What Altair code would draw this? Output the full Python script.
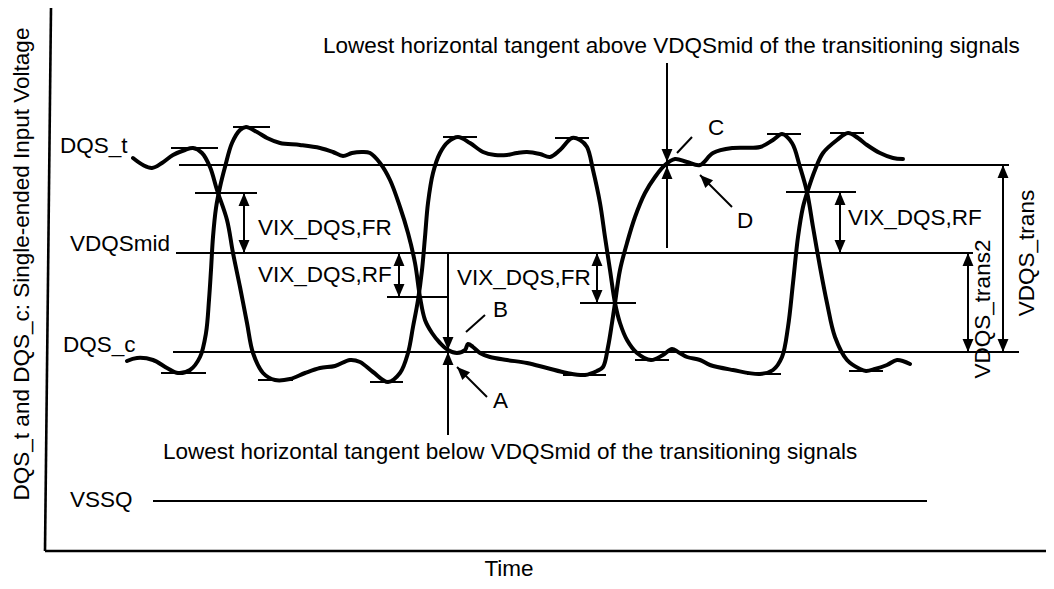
import altair as alt
import pandas as pd

# ---------------- waveform samples (time units, voltage units) ----------------
dqs_t_time = [133, 143, 152, 162, 173, 185, 193, 202, 210, 217, 227, 233, 240, 247, 253, 263, 275, 290,
              305, 320, 335, 350, 360, 373, 388, 400, 408, 413, 418, 422, 425, 428, 433, 440, 448, 458,
              470, 483, 495, 507, 517, 527, 540, 550, 560, 572, 580, 587, 593, 600, 605, 610, 615, 620,
              627, 637, 651, 663, 672, 678, 687, 700, 710, 733, 760, 773, 782, 788, 793, 798, 803, 808,
              815, 823, 837, 848, 858, 867, 880, 893, 903]
dqs_t_volt = [393, 386, 383, 388, 396, 401, 403, 398, 384, 361, 331, 298, 264, 228, 198, 178, 171, 172,
              178, 183, 185, 191, 189, 179, 169, 178, 198, 224, 251, 281, 314, 348, 378, 398, 409, 414,
              408, 399, 396, 396, 398, 399, 397, 394, 401, 413, 411, 404, 381, 348, 314, 281, 248, 228,
              211, 198, 191, 196, 202, 199, 194, 191, 186, 181, 177, 181, 194, 224, 268, 314, 344, 361,
              381, 398, 411, 418, 413, 406, 398, 393, 392]

dqs_c_time = [127, 137, 153, 167, 178, 190, 200, 206, 209, 211, 213, 216, 220, 225, 232, 240, 246, 257,
              267, 280, 300, 320, 333, 343, 352, 362, 370, 380, 390, 400, 408, 415, 420, 425, 432, 440,
              448, 457, 465, 468, 473, 480, 490, 507, 527, 547, 567, 585, 597, 603, 608, 612, 615, 620,
              627, 635, 645, 655, 665, 675, 687, 700, 713, 733, 760, 773, 782, 792, 800, 807, 813, 820,
              827, 835, 847, 860, 866, 875, 887, 897, 910]
dqs_c_volt = [190, 193, 191, 183, 178, 181, 194, 218, 251, 281, 314, 343, 364, 384, 408, 421, 424, 419,
              413, 408, 406, 403, 399, 395, 398, 399, 398, 388, 371, 344, 318, 288, 254, 231, 218, 208,
              201, 198, 201, 207, 204, 198, 194, 191, 188, 183, 178, 176, 180, 184, 204, 228, 248, 281,
              308, 334, 358, 374, 386, 392, 389, 386, 398, 403, 404, 411, 417, 408, 384, 359, 324, 284,
              248, 214, 191, 182, 180, 182, 186, 191, 187]

# ---------------- reference levels ----------------
level_start = [179, 176, 173, 153]
level_end = [1009, 973, 1019, 927]
level_volt = [386, 298, 199, 50]

# ---------------- tangent / crossing ticks ----------------
tick_start = [171, 443, 555, 830, 233, 767, 258, 370, 635, 747, 161, 563, 849, 195, 387, 580, 786]
tick_end = [218, 477, 589, 864, 270, 801, 293, 403, 669, 781, 206, 606, 883, 257, 448, 636, 856]
tick_volt = [403, 414, 413, 418, 424, 417, 171, 169, 191, 177, 178, 176, 180, 358, 254, 248, 359]

# ---------------- arrow shafts ----------------
shaft_t1 = [244, 399, 597, 840, 1003, 968, 448, 667, 667, 487, 732, 485, 692]
shaft_v1 = [358, 298, 298, 359, 386, 298, 298, 488, 303, 154, 344, 236, 414]
shaft_t2 = [244, 399, 597, 840, 1003, 968, 448, 667, 667, 457, 700, 466, 677]
shaft_v2 = [298, 254, 248, 298, 199, 199, 116, 389, 385, 184, 376, 219, 398]

# ---------------- arrow heads (tip position, direction angle) ----------------
head_t = [244, 244, 399, 399, 597, 597, 840, 840, 1003, 1003, 968, 968, 448, 448, 667, 667, 457, 700]
head_v = [358, 298, 298, 254, 298, 248, 359, 298, 386, 199, 298, 199, 201, 199, 389, 385, 184, 376]
head_angle = [0, 180, 0, 180, 0, 180, 0, 180, 0, 180, 0, 180, 180, 0, 180, 0, 315, 315]

# ---------------- axis frame ----------------
frame_t1 = [51, 45]
frame_v1 = [543, 0]
frame_t2 = [45, 1046]
frame_v2 = [0, 0]

# ---------------- horizontal labels ----------------
label_text = ["DQS_t", "VDQSmid", "DQS_c", "VSSQ",
              "Lowest horizontal tangent above VDQSmid of the transitioning signals",
              "Lowest horizontal tangent below VDQSmid of the transitioning signals",
              "VIX_DQS,FR", "VIX_DQS,RF", "VIX_DQS,FR", "VIX_DQS,RF",
              "A", "B", "C", "D"]
label_t = [60, 70, 63, 70, 323, 163, 258, 258, 457, 848, 493, 493, 708, 737]
label_v = [398, 300, 199, 44, 498, 92, 316, 269, 266, 326, 143, 234, 416, 323]

# ---------------- rotated labels ----------------
rot_text = ["DQS_t and DQS_c: Single-ended Input Voltage", "VDQS_trans", "VDQS_trans2"]
rot_t = [29, 1034, 990]
rot_v = [287, 298, 242]

x_title = ["Time"]
x_title_t = [509]
x_title_v = [-25]

FONT = "Liberation Sans"
FS = 22.5
xs = alt.Scale(domain=[8, 1046], nice=False, zero=False)
ys = alt.Scale(domain=[-30, 543], nice=False, zero=False)

wave = pd.DataFrame({
    "t": dqs_t_time + dqs_c_time,
    "v": dqs_t_volt + dqs_c_volt,
    "signal": ["DQS_t"] * len(dqs_t_time) + ["DQS_c"] * len(dqs_c_time),
    "seq": list(range(len(dqs_t_time))) + list(range(len(dqs_c_time))),
})
levels = pd.DataFrame({"t1": level_start, "t2": level_end, "v": level_volt})
ticks = pd.DataFrame({"t1": tick_start, "t2": tick_end, "v": tick_volt})
shafts = pd.DataFrame({"t1": shaft_t1, "v1": shaft_v1, "t2": shaft_t2, "v2": shaft_v2})
heads = pd.DataFrame({"t": head_t, "v": head_v, "ang": head_angle})
frame = pd.DataFrame({"t1": frame_t1, "v1": frame_v1, "t2": frame_t2, "v2": frame_v2})
labels = pd.DataFrame({"t": label_t, "v": label_v, "text": label_text})
rlabels = pd.DataFrame({"t": rot_t, "v": rot_v, "text": rot_text})
xlab = pd.DataFrame({"t": x_title_t, "v": x_title_v, "text": x_title})

X = lambda f: alt.X(f, type="quantitative", scale=xs, axis=None)
Y = lambda f: alt.Y(f, type="quantitative", scale=ys, axis=None)

frame_layer = alt.Chart(frame).mark_rule(color="black", strokeWidth=2.6).encode(
    x=X("t1"), y=Y("v1"), x2="t2", y2="v2")
level_layer = alt.Chart(levels).mark_rule(color="black", strokeWidth=2).encode(
    x=X("t1"), x2="t2", y=Y("v"))
tick_layer = alt.Chart(ticks).mark_rule(color="black", strokeWidth=2).encode(
    x=X("t1"), x2="t2", y=Y("v"))
shaft_layer = alt.Chart(shafts).mark_rule(color="black", strokeWidth=2).encode(
    x=X("t1"), y=Y("v1"), x2="t2", y2="v2")
UP = "M0,0L-0.42,1L0.42,1Z"
head_layer = alt.Chart(heads).mark_point(shape=UP, filled=True, size=676, color="black",
                                         opacity=1, strokeWidth=0).encode(
    x=X("t"), y=Y("v"), angle=alt.Angle("ang:Q", scale=None))
wave_layer = alt.Chart(wave).mark_line(color="black", strokeWidth=4, interpolate="catmull-rom",
                                       strokeJoin="round", strokeCap="round").encode(
    x=X("t"), y=Y("v"), detail="signal:N", order="seq:Q")
text_layer = alt.Chart(labels).mark_text(align="left", baseline="alphabetic", font=FONT,
                                         fontSize=FS, color="black").encode(
    x=X("t"), y=Y("v"), text="text:N")
rot_layer = alt.Chart(rlabels).mark_text(align="center", baseline="alphabetic", font=FONT,
                                         fontSize=FS, color="black", angle=270).encode(
    x=X("t"), y=Y("v"), text="text:N")
xlab_layer = alt.Chart(xlab).mark_text(align="center", baseline="alphabetic", font=FONT,
                                       fontSize=FS, color="black").encode(
    x=X("t"), y=Y("v"), text="text:N")

chart = alt.layer(frame_layer, level_layer, tick_layer, shaft_layer, wave_layer, head_layer,
                  text_layer, rot_layer, xlab_layer).properties(
    width=1038, height=573, padding=0,
    autosize=alt.AutoSizeParams(type="none"),
).configure_view(stroke=None)

chart.save("out.html", embed_options={"renderer": "svg", "actions": False})
